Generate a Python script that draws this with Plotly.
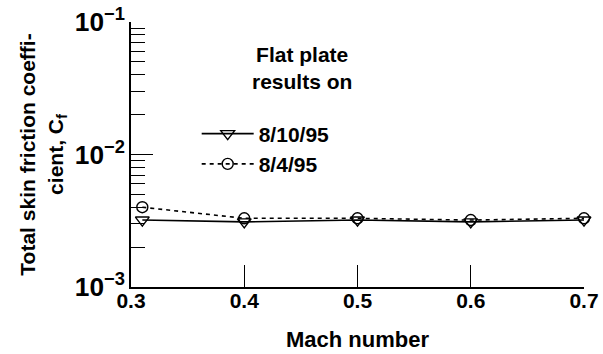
import plotly.graph_objects as go

mach = [0.31, 0.4, 0.5, 0.6, 0.7]
cf_0810 = [0.0032, 0.0031, 0.0032, 0.0031, 0.0032]
cf_0804 = [0.0040, 0.0033, 0.0033, 0.0032, 0.0033]
names = ["8/10/95", "8/4/95"]
x_ticks = [0.3, 0.4, 0.5, 0.6, 0.7]

FONT = "Liberation Sans, Arial, Helvetica, sans-serif"

fig = go.Figure()
fig.add_trace(go.Scatter(
    x=mach, y=cf_0810, name=names[0], mode="lines+markers",
    line=dict(color="black", width=1.6),
    marker=dict(symbol="triangle-down-open", size=12, color="black", line=dict(width=1.4)),
    cliponaxis=False))
fig.add_trace(go.Scatter(
    x=mach, y=cf_0804, name=names[1], mode="lines+markers",
    line=dict(color="black", width=1.6, dash="4px,4px"),
    marker=dict(symbol="circle-open", size=11, color="black", line=dict(width=1.4)),
    cliponaxis=False))

fig.update_layout(
    width=603, height=354,
    margin=dict(l=131, r=19, t=22, b=67),
    paper_bgcolor="white", plot_bgcolor="white",
    font=dict(family=FONT, size=21, color="black", weight="bold"),
    showlegend=True,
    legend=dict(x=0.145, y=0.655, xanchor="left", yanchor="top",
                bgcolor="rgba(0,0,0,0)", font=dict(size=21, weight="bold"),
                itemwidth=52, tracegroupgap=0),
    annotations=[dict(text="Flat plate<br>results on", xref="paper", yref="paper",
                      x=0.378, y=0.93, xanchor="center", yanchor="top", showarrow=False,
                      font=dict(size=21, weight="bold"))],
)
fig.update_xaxes(
    range=[0.3, 0.7], tickvals=x_ticks, ticktext=[f"{v:.1f}" for v in x_ticks],
    automargin=False,
    showline=True, linecolor="black", linewidth=1.6,
    ticks="inside", ticklen=22, tickwidth=1.4, tickcolor="black",
    showgrid=False, zeroline=False,
    ticklabelstandoff=-6,
    title=dict(text="Mach number", standoff=21, font=dict(size=22, weight="bold")),
    tickfont=dict(size=21, weight="bold"),
)
fig.update_yaxes(
    type="log", range=[-3, -1], dtick=1, exponentformat="power",
    automargin=False,
    showline=True, linecolor="black", linewidth=1.6,
    ticks="inside", ticklen=22, tickwidth=1.4, tickcolor="black",
    minor=dict(ticks="inside", ticklen=14, tickwidth=1.4, tickcolor="black", dtick="D1", showgrid=False),
    showgrid=False, zeroline=False,
    title=dict(text="Total skin friction coeffi-<br>cient, C<sub>f</sub>", standoff=6,
               font=dict(size=21, weight="bold")),
    tickfont=dict(size=21, weight="bold"),
)

fig.write_html("out.html", config={"displayModeBar": False},
               post_script="document.body.style.margin='0';")
